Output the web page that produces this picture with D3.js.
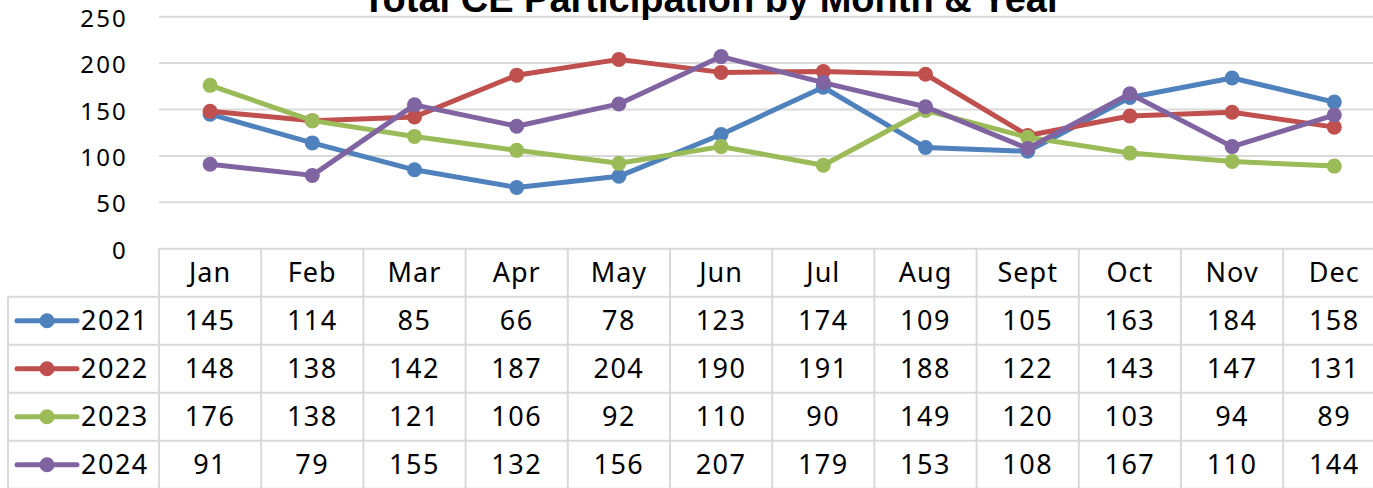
<!DOCTYPE html>
<html lang="en">
  <head>
    <meta charset="UTF-8" />
    <title>Total CE Participation by Month &amp; Year</title>
    <style>
      body { margin: 0; background: #fff; overflow: hidden; }
      svg { display: block; }
      text { font-family: "Noto Sans", sans-serif; fill: #000; }
    </style>
  </head>
  <body>
    <svg width="1373" height="488"></svg>

    <script src="https://cdn.jsdelivr.net/npm/d3@7"></script>
    <script>
      const months = ["Jan", "Feb", "Mar", "Apr", "May", "Jun", "Jul", "Aug", "Sept", "Oct", "Nov", "Dec"];
      const years = ["2021", "2022", "2023", "2024"];
      const v2021 = [145, 114, 85, 66, 78, 123, 174, 109, 105, 163, 184, 158];
      const v2022 = [148, 138, 142, 187, 204, 190, 191, 188, 122, 143, 147, 131];
      const v2023 = [176, 138, 121, 106, 92, 110, 90, 149, 120, 103, 94, 89];
      const v2024 = [91, 79, 155, 132, 156, 207, 179, 153, 108, 167, 110, 144];
      const yTicks = [0, 50, 100, 150, 200, 250];

      const seriesValues = [v2021, v2022, v2023, v2024];
      const colors = ["#4f81bd", "#c0504d", "#9bbb59", "#8064a2"];

      const svg = d3.select("svg");

      const plotLeft = 159, colW = 102.2;
      const plotRight = plotLeft + months.length * colW;
      const x = d3.scaleBand().domain(months).range([plotLeft, plotRight]);
      const y = d3.scaleLinear().domain([0, 250]).range([248.7, 16.7]);

      const rowH = 48;
      const tableTop = y(0);
      const legendLeft = 8;

      // gridlines
      svg.append("g")
        .selectAll("line")
        .data(yTicks.filter((d) => d > 0))
        .join("line")
        .attr("x1", plotLeft).attr("x2", plotRight)
        .attr("y1", (d) => y(d)).attr("y2", (d) => y(d))
        .attr("stroke", "#d9d9d9").attr("stroke-width", 2);

      // y axis labels
      const yAxis = d3.axisLeft(y).tickValues(yTicks).tickSize(0).tickPadding(0);
      const yg = svg.append("g")
        .attr("transform", `translate(128,0)`)
        .call(yAxis);
      yg.select(".domain").remove();
      yg.selectAll("text")
        .attr("font-family", "Noto Sans, sans-serif")
        .attr("font-size", 24)
        .attr("letter-spacing", 2.2)
        .attr("dy", 9.5)
        .attr("fill", "#000");

      // title (partially clipped at top like the reference)
      svg.append("text")
        .attr("x", 712).attr("y", 12)
        .attr("text-anchor", "middle")
        .style("font-family", "Liberation Sans, Arial, sans-serif")
        .style("font-weight", "bold")
        .style("font-size", "38px")
        .text("Total CE Participation by Month & Year");

      // table borders
      const border = svg.append("g").attr("stroke", "#d9d9d9").attr("stroke-width", 2);
      border.append("line")
        .attr("x1", plotLeft).attr("x2", plotRight)
        .attr("y1", tableTop).attr("y2", tableTop);
      d3.range(1, years.length + 2).forEach((i) => {
        border.append("line")
          .attr("x1", legendLeft).attr("x2", plotRight)
          .attr("y1", tableTop + i * rowH).attr("y2", tableTop + i * rowH);
      });
      d3.range(0, months.length + 1).forEach((i) => {
        const xx = plotLeft + i * colW;
        border.append("line")
          .attr("x1", xx).attr("x2", xx)
          .attr("y1", tableTop).attr("y2", 488);
      });
      border.append("line")
        .attr("x1", legendLeft).attr("x2", legendLeft)
        .attr("y1", tableTop + rowH).attr("y2", 488);

      // header labels
      svg.append("g")
        .selectAll("text")
        .data(months)
        .join("text")
        .attr("x", (d) => x(d) + x.bandwidth() / 2)
        .attr("y", tableTop + rowH / 2 + 9)
        .attr("text-anchor", "middle")
        .attr("font-size", 27)
        .attr("letter-spacing", 1)
        .text((d) => d);

      // series lines + markers
      const line = d3.line()
        .x((d, i) => x(months[i]) + x.bandwidth() / 2)
        .y((d) => y(d));

      seriesValues.forEach((vals, s) => {
        const g = svg.append("g");
        g.append("path")
          .datum(vals)
          .attr("d", line)
          .attr("fill", "none")
          .attr("stroke", colors[s])
          .attr("stroke-width", 5)
          .attr("stroke-linejoin", "round");
        g.selectAll("circle")
          .data(vals)
          .join("circle")
          .attr("cx", (d, i) => x(months[i]) + x.bandwidth() / 2)
          .attr("cy", (d) => y(d))
          .attr("r", 7.5)
          .attr("fill", colors[s]);
      });

      // data rows
      years.forEach((yr, s) => {
        const rowMid = tableTop + rowH * (s + 1) + rowH / 2;
        const g = svg.append("g");
        g.append("line")
          .attr("x1", 17).attr("x2", 77)
          .attr("y1", rowMid).attr("y2", rowMid)
          .attr("stroke", colors[s]).attr("stroke-width", 5)
          .attr("stroke-linecap", "round");
        g.append("circle")
          .attr("cx", 47).attr("cy", rowMid).attr("r", 7.5)
          .attr("fill", colors[s]);
        g.append("text")
          .attr("x", 81).attr("y", rowMid + 9)
          .attr("font-size", 27)
          .attr("letter-spacing", 1.5)
          .text(yr);
        g.selectAll("text.val")
          .data(seriesValues[s])
          .join("text")
          .attr("class", "val")
          .attr("x", (d, i) => x(months[i]) + x.bandwidth() / 2)
          .attr("y", rowMid + 9)
          .attr("text-anchor", "middle")
          .attr("font-size", 27)
          .attr("letter-spacing", 1.5)
          .text((d) => d);
      });
    </script>
  </body>
</html>
